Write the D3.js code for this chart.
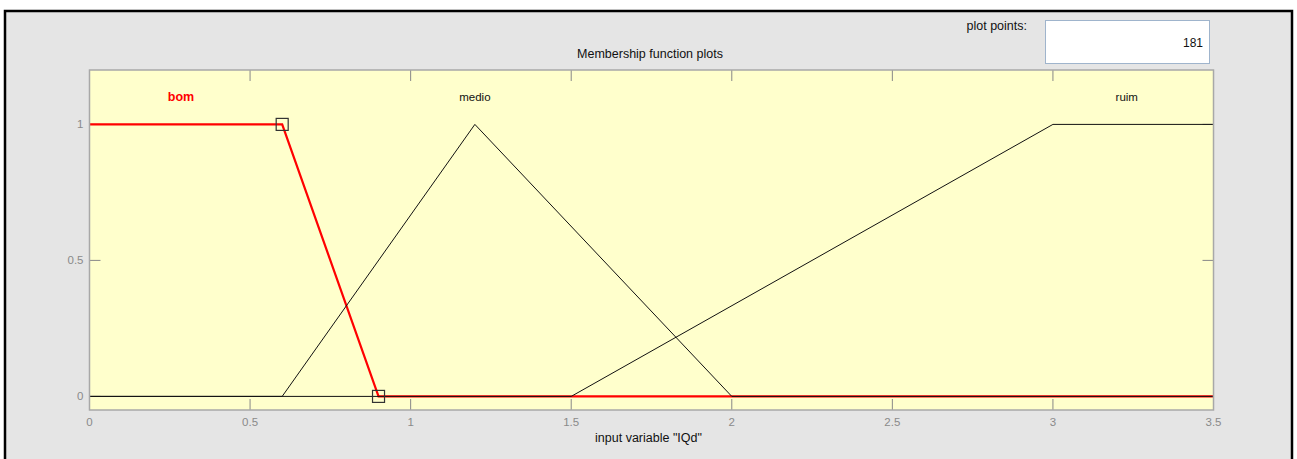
<!DOCTYPE html>
<html lang="en">
<head>
<meta charset="utf-8">
<title>Membership function plots</title>
<script src="https://d3js.org/d3.v7.min.js"></script>
<style>
  body { margin: 0; background: #fff; }
  svg { display: block; font-family: "Liberation Sans", Arial, sans-serif; }
</style>
</head>
<body>
<svg id="mf"></svg>
<script>
// membership functions of input variable "IQd" (breakpoints)
var mfNames = ["bom", "medio", "ruim"];
var bomX = [0, 0.6, 0.9, 3.5];
var bomY = [1, 1, 0, 0];
var medioX = [0, 0.6, 1.2, 2, 3.5];
var medioY = [0, 0, 1, 0, 0];
var ruimX = [0, 1.5, 3, 3.5];
var ruimY = [0, 0, 1, 1];
var labelX = [0.285, 1.2, 3.23];   // label positions along x
var xTicks = [0, 0.5, 1, 1.5, 2, 2.5, 3, 3.5];
var yTicks = [0, 0.5, 1];
var plotPoints = 181;

var width = 1297, height = 459;
var box = {left: 89.5, right: 1213.5, top: 70, bottom: 410};

var svg = d3.select("#mf").attr("width", width).attr("height", height);

// figure background + black frame
svg.append("rect")
  .attr("x", 5).attr("y", 11)
  .attr("width", 1287).attr("height", 460)
  .attr("fill", "#e5e5e5")
  .attr("stroke", "#000").attr("stroke-width", 2.5);

var x = d3.scaleLinear().domain([0, 3.5]).range([box.left, box.right]);
var y = d3.scaleLinear().domain([-0.05, 1.2]).range([box.bottom, box.top]);

// plot area
svg.append("rect")
  .attr("x", box.left).attr("y", box.top)
  .attr("width", box.right - box.left).attr("height", box.bottom - box.top)
  .attr("fill", "#ffffcc");

var tickCol = "#888";
var tickLen = 11;

// inward ticks on all four sides
var g = svg.append("g");
g.selectAll(".xb").data(xTicks).enter().append("line")
  .attr("x1", d => x(d)).attr("x2", d => x(d))
  .attr("y1", box.bottom).attr("y2", box.bottom - tickLen)
  .attr("stroke", tickCol);
g.selectAll(".xt").data(xTicks).enter().append("line")
  .attr("x1", d => x(d)).attr("x2", d => x(d))
  .attr("y1", box.top).attr("y2", box.top + tickLen)
  .attr("stroke", tickCol);
g.selectAll(".yl").data(yTicks).enter().append("line")
  .attr("x1", box.left).attr("x2", box.left + tickLen)
  .attr("y1", d => y(d)).attr("y2", d => y(d))
  .attr("stroke", tickCol);
g.selectAll(".yr").data(yTicks).enter().append("line")
  .attr("x1", box.right).attr("x2", box.right - tickLen)
  .attr("y1", d => y(d)).attr("y2", d => y(d))
  .attr("stroke", tickCol);

// tick labels
g.selectAll(".xlab").data(xTicks).enter().append("text")
  .attr("x", d => x(d)).attr("y", box.bottom + 16)
  .attr("text-anchor", "middle")
  .attr("font-size", 11.5).attr("fill", "#8a8a8a")
  .text(d => d);
g.selectAll(".ylab").data(yTicks).enter().append("text")
  .attr("x", box.left - 6).attr("y", d => y(d) + 4)
  .attr("text-anchor", "end")
  .attr("font-size", 11.5).attr("fill", "#8a8a8a")
  .text(d => d);

// curves
var line = d3.line().x(d => x(d[0])).y(d => y(d[1]));
function pts(xs, ys) { return xs.map((v, i) => [v, ys[i]]); }

svg.append("path").datum(pts(bomX, bomY))
  .attr("d", line).attr("fill", "none")
  .attr("stroke", "#ff0000").attr("stroke-width", 2.2);
svg.append("path").datum(pts(medioX, medioY))
  .attr("d", line).attr("fill", "none")
  .attr("stroke", "#111").attr("stroke-width", 1);
svg.append("path").datum(pts(ruimX, ruimY))
  .attr("d", line).attr("fill", "none")
  .attr("stroke", "#111").attr("stroke-width", 1);

// selected MF handles
svg.selectAll(".handle").data([[bomX[1], bomY[1]], [bomX[2], bomY[2]]]).enter().append("rect")
  .attr("x", d => x(d[0]) - 6).attr("y", d => y(d[1]) - 6)
  .attr("width", 12).attr("height", 12)
  .attr("fill", "none").attr("stroke", "#333").attr("stroke-width", 1.2);

// axes box
svg.append("rect")
  .attr("x", box.left).attr("y", box.top)
  .attr("width", box.right - box.left).attr("height", box.bottom - box.top)
  .attr("fill", "none").attr("stroke", "#a8a8a8").attr("stroke-width", 1.5);

// MF labels
svg.selectAll(".mfname").data(mfNames).enter().append("text")
  .attr("x", (d, i) => x(labelX[i])).attr("y", 101)
  .attr("text-anchor", "middle")
  .attr("font-size", (d, i) => i == 0 ? 12.5 : 11.5)
  .attr("font-weight", (d, i) => i == 0 ? "bold" : "normal")
  .attr("fill", (d, i) => i == 0 ? "#ff0000" : "#111")
  .text(d => d);

// title + xlabel
svg.append("text").attr("x", 650).attr("y", 57.5)
  .attr("text-anchor", "middle").attr("font-size", 12.5).attr("fill", "#111")
  .text("Membership function plots");
svg.append("text").attr("x", 648.5).attr("y", 442)
  .attr("text-anchor", "middle").attr("font-size", 12.5).attr("fill", "#111")
  .text('input variable "IQd"');

// plot points field
svg.append("text").attr("x", 1027).attr("y", 30)
  .attr("text-anchor", "end").attr("font-size", 12.5).attr("fill", "#111")
  .text("plot points:");
svg.append("rect")
  .attr("x", 1045.5).attr("y", 20.5).attr("width", 164).attr("height", 43)
  .attr("fill", "#fff").attr("stroke", "#9fb4cc").attr("stroke-width", 1);
svg.append("text").attr("x", 1203).attr("y", 46.5)
  .attr("text-anchor", "end").attr("font-size", 12).attr("fill", "#111")
  .text(plotPoints);
</script>
</body>
</html>
